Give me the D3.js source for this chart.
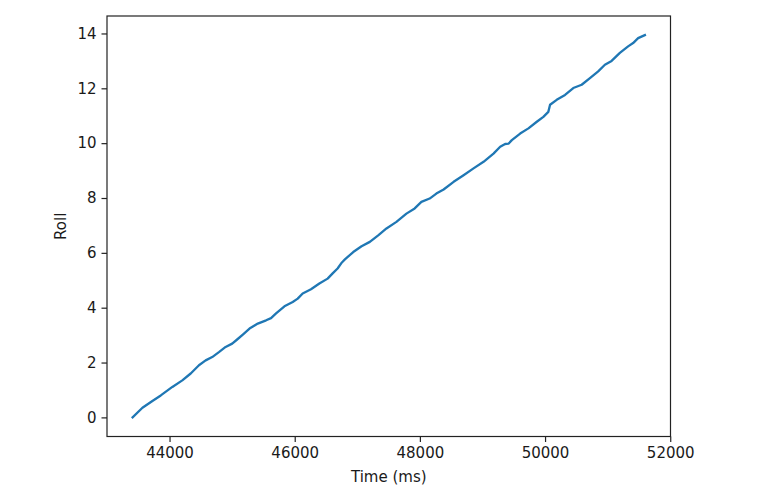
<!DOCTYPE html>
<html>
<head>
<meta charset="utf-8">
<script src="https://cdn.jsdelivr.net/npm/d3@7"></script>
<style>
  html, body { margin: 0; padding: 0; background: #fff; }
  svg { display: block; }
  text { font-family: "DejaVu Sans", sans-serif; fill: #1a1a1a; }
</style>
</head>
<body>
<svg id="chart" width="766" height="488"></svg>
<script>
const timeMs = [43410, 43567, 43726, 43860, 44045, 44204, 44338, 44470, 44577, 44682,
  44789, 44896, 45001, 45080, 45171, 45278, 45410, 45543, 45622, 45702,
  45836, 45968, 46048, 46127, 46260, 46394, 46526, 46606, 46685, 46754,
  46802, 46935, 47068, 47200, 47334, 47466, 47625, 47785, 47917, 48024,
  48156, 48263, 48379, 48539, 48698, 48857, 49017, 49176, 49283, 49362,
  49415, 49469, 49602, 49734, 49868, 49973, 50052, 50080, 50186, 50319,
  50451, 50585, 50717, 50849, 50956, 51063, 51195, 51327, 51407, 51487, 51595];
const roll = [0.00, 0.35, 0.60, 0.80, 1.11, 1.35, 1.60, 1.90, 2.08, 2.20,
  2.38, 2.57, 2.69, 2.84, 3.02, 3.24, 3.42, 3.54, 3.62, 3.79,
  4.05, 4.21, 4.33, 4.52, 4.67, 4.88, 5.06, 5.25, 5.43, 5.65,
  5.76, 6.03, 6.24, 6.40, 6.64, 6.89, 7.13, 7.43, 7.62, 7.86,
  7.98, 8.16, 8.31, 8.59, 8.83, 9.08, 9.32, 9.62, 9.87, 9.97,
  9.98, 10.11, 10.35, 10.54, 10.78, 10.96, 11.14, 11.40, 11.58, 11.76,
  12.01, 12.13, 12.37, 12.62, 12.86, 13.00, 13.29, 13.53, 13.65, 13.83, 13.94];
const xTicks = [44000, 46000, 48000, 50000, 52000];
const yTicks = [0, 2, 4, 6, 8, 10, 12, 14];
const xLabel = "Time (ms)";
const yLabel = "Roll";

const W = 766, H = 488;
const margin = { left: 107, top: 16, right: 95.5, bottom: 51.5 };
const iw = W - margin.left - margin.right;
const ih = H - margin.top - margin.bottom;

function padded(ext) {
  const d = (ext[1] - ext[0]) * 0.05;
  return [ext[0] - d, ext[1] + d];
}

const x = d3.scaleLinear().domain(padded(d3.extent(timeMs))).range([0, iw]);
const y = d3.scaleLinear().domain(padded(d3.extent(roll))).range([ih, 0]);

const svg = d3.select("#chart");
const g = svg.append("g").attr("transform", `translate(${margin.left},${margin.top})`);

const data = timeMs.map((t, i) => [t, roll[i]]);

g.append("path")
  .datum(data)
  .attr("fill", "none")
  .attr("stroke", "#1f77b4")
  .attr("stroke-width", 2.3)
  .attr("stroke-linejoin", "round")
  .attr("stroke-linecap", "square")
  .attr("d", d3.line().x(d => x(d[0])).y(d => y(d[1])));

const fmt = d3.format("d");
const xAxis = g.append("g").attr("transform", `translate(0,${ih})`)
  .call(d3.axisBottom(x).tickValues(xTicks).tickFormat(fmt).tickSize(5.5).tickPadding(5));
const yAxis = g.append("g")
  .call(d3.axisLeft(y).tickValues(yTicks).tickFormat(fmt).tickSize(5.5).tickPadding(5));

[xAxis, yAxis].forEach(a => {
  a.select(".domain").remove();
  a.selectAll(".tick line").attr("stroke", "#222").attr("stroke-width", 1.2);
  a.selectAll(".tick text").attr("font-size", 15).attr("font-family", "DejaVu Sans, sans-serif").attr("fill", "#1a1a1a");
});

g.append("rect")
  .attr("x", 0).attr("y", 0).attr("width", iw).attr("height", ih)
  .attr("fill", "none").attr("stroke", "#222").attr("stroke-width", 1.2);

svg.append("text")
  .attr("x", margin.left + iw / 2)
  .attr("y", 482)
  .attr("text-anchor", "middle")
  .attr("font-size", 15)
  .text(xLabel);

svg.append("text")
  .attr("transform", `translate(66,${margin.top + ih / 2}) rotate(-90)`)
  .attr("text-anchor", "middle")
  .attr("font-size", 15)
  .text(yLabel);
</script>
</body>
</html>
